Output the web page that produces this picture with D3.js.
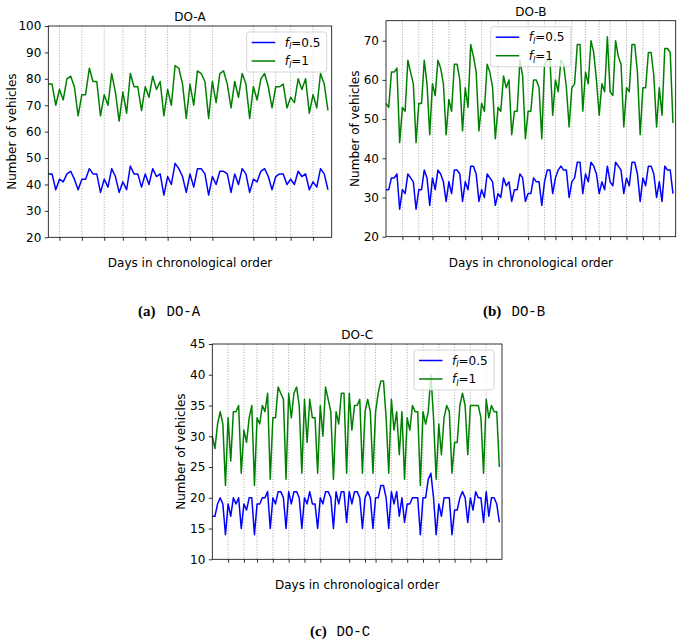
<!DOCTYPE html>
<html><head><meta charset="utf-8">
<script src="https://cdn.jsdelivr.net/npm/d3@7/dist/d3.min.js"></script>
<style>body{margin:0;background:#fff}svg{display:block}</style>
</head><body>
<svg id="chart" width="685" height="643"></svg>
<script>
// ---------------- DATA ----------------
const seriesNames = ["0.5", "1"];
const titles = ["DO-A", "DO-B", "DO-C"];
const captions = [["(a)", "DO-A"], ["(b)", "DO-B"], ["(c)", "DO-C"]];

// DO-A (76 days)
const blueA = [44,44,38, 42,41,44,45,42,38, 42,42,46,44,44,37, 42,39,46,43,37, 41,38,47,44,44,39,
  44,40,46,43,44,36, 43,40,48,46,43,37, 44,39,46,46,44,36, 43,40,45,45,44,37, 44,40,46,44,37,
  42,41,45,46,43,38, 43,44,44,40, 42,40,45,43,44,38, 41,39,46,44,38];
const greenA = [78,78,70, 76,72,80,81,77,66, 74,74,84,79,79,66, 74,70,82,75,64, 75,67,82,77,77,68,
  77,73,81,76,79,66, 76,70,85,84,78,65, 78,70,83,82,79,65, 79,71,82,83,78,69, 79,73,82,78,65,
  77,72,80,82,77,69, 77,77,78,69, 73,71,80,76,80,67, 74,69,82,78,68];
const weekTicksA = [3,9,15,20,26,32,38,44,55,61,65,71];
const yTicksA = [20,30,40,50,60,70,80,90,100];

// DO-B (106 days)
const blueB = [32,32,35,35,36,27, 32,31,36,35,34,27, 32,32,37,35,28, 35,32,37,36,34,29, 34,31,37,37,36,29,
  34,32,38,38,36,29, 32,30,36,35,34,28, 31,30,35,33,34,29, 32,32,36,35,29, 31,31,35,34,34,28,
  34,37,37,31, 35,37,38,37,37,30, 34,35,39,39,31, 36,34,39,38,36, 31,34,32,38,
  34,33,39,38,37,31, 35,33,39,39,36,29, 35,33,38,38,36,30, 34,29,38,37,37,31];
const greenB = [54,53,62,62,63,44, 53,52,65,62,59,44, 54,54,65,59,46, 59,56,65,63,59,46, 55,52,64,64,60,47,
  58,53,69,66,62,47, 54,52,64,62,58,45, 53,52,61,58,60,46, 52,52,65,61,45, 52,52,60,60,58,45,
  64,65,65,51, 60,57,65,64,58,48, 58,59,69,69,52, 62,59,70,67,60, 51,59,57,71,
  57,56,70,66,64,48, 58,57,69,69,62,46, 58,58,67,67,61,48, 58,51,68,68,67,49];
const weekTicksB = [6,12,17,23,29,35,41,52,58,62,68,73,78,82,88,94,100];
const yTicksB = [20,30,40,50,60,70];

// DO-C (110 days)
const blueC = [17,17,19,20,19,14, 19,17,20,19,20,15, 19,18,20,20,14, 19,19,20,20,21,15, 20,19,21,21,20,15,
  21,19,21,21,20,15, 20,19,21,19,19,15, 20,19,21,21,20,15, 21,19,21,21,16, 21,19,21,21,20,15,
  20,21,20,15, 20,20,22,22,20,15, 21,19,21,17,20,16, 19,19,20,20,20,14, 20,20,23,24,20,14,
  19,17,20,20,20,14, 18,18,20,21,20,16, 20,18,21,20,20,16, 21,17,20,20,19,16];
const greenC = [30,28,32,34,32,22, 33,26,34,34,35,24, 31,29,33,35,22, 33,32,35,34,37,23, 33,33,38,37,36,23,
  37,33,37,38,35,24, 36,29,36,33,33,24, 35,30,38,36,34,23, 34,32,37,37,24, 37,31,35,35,36,24,
  34,36,34,24, 34,37,39,39,33,24, 36,31,34,27,34,23, 33,31,35,34,34,22, 34,32,34,40,33,23,
  32,27,33,35,34,24, 29,29,35,37,35,27, 35,35,35,35,33,24, 36,33,35,34,34,25];
const weekTicksC = [6,12,17,23,29,35,41,52,58,62,68,74,80,86,92,98,104];
const yTicksC = [10,15,20,25,30,35,40,45];

// ---------------- DRAW ----------------
const FONT = "'DejaVu Sans', 'Noto Sans', sans-serif";
const FS = 12;
const BLUE = "#0000ff", GREEN = "#008000";
const svg = d3.select("#chart");

const panels = [
  {blue: blueA, green: greenA, ticks: weekTicksA, yTicks: yTicksA, yDomain: [20, 100], title: titles[0], cap: captions[0],
   box: {l: 48.3, r: 331.7, t: 26, b: 237.3}, ylabX: 11.5, legX: 246.7, capX: 138, capMonoX: 166.5, capY: 316},
  {blue: blueB, green: greenB, ticks: weekTicksB, yTicks: yTicksB, yDomain: [20, 75.1], title: titles[1], cap: captions[1],
   box: {l: 386, r: 675.7, t: 20.7, b: 236.7}, ylabX: 354.5, legX: 490.7, capX: 483, capMonoX: 511.5, capY: 316},
  {blue: blueC, green: greenC, ticks: weekTicksC, yTicks: yTicksC, yDomain: [10, 45], title: titles[2], cap: captions[2],
   box: {l: 212.3, r: 502, t: 344, b: 559.3}, ylabX: 181, legX: 414, capX: 310, capMonoX: 336.5, capY: 636}
];

panels.forEach(p => {
  const N = p.green.length;
  const x = d3.scaleLinear().domain([0, N]).range([p.box.l, p.box.r]);
  const y = d3.scaleLinear().domain(p.yDomain).range([p.box.b, p.box.t]);
  const g = svg.append("g");

  // dotted vertical week lines
  g.selectAll("line.grid").data(p.ticks).join("line")
    .attr("x1", d => x(d)).attr("x2", d => x(d))
    .attr("y1", p.box.t).attr("y2", p.box.b)
    .attr("stroke", "#999999").attr("stroke-width", 0.9).attr("stroke-dasharray", "1,1.7");

  // lines
  const line = d3.line().x((d, i) => x(i)).y(d => y(d));
  g.append("path").datum(p.blue).attr("d", line).attr("fill", "none")
    .attr("stroke", BLUE).attr("stroke-width", 1.5).attr("stroke-linejoin", "round");
  g.append("path").datum(p.green).attr("d", line).attr("fill", "none")
    .attr("stroke", GREEN).attr("stroke-width", 1.5).attr("stroke-linejoin", "round");

  // axes
  const xa = g.append("g").attr("transform", `translate(0,${p.box.b})`)
    .call(d3.axisBottom(x).tickValues(p.ticks).tickFormat("").tickSizeInner(3.5).tickSizeOuter(0));
  xa.select(".domain").remove();
  xa.selectAll("line").attr("stroke", "#000").attr("stroke-width", 0.8);

  const ya = g.append("g").attr("transform", `translate(${p.box.l},0)`)
    .call(d3.axisLeft(y).tickValues(p.yTicks).tickSizeInner(3.5).tickSizeOuter(0).tickPadding(3.5));
  ya.select(".domain").remove();
  ya.selectAll("line").attr("stroke", "#000").attr("stroke-width", 0.8);
  ya.selectAll("text").attr("font-family", FONT).attr("font-size", FS).attr("fill", "#000");

  // frame
  g.append("rect").attr("x", p.box.l).attr("y", p.box.t)
    .attr("width", p.box.r - p.box.l).attr("height", p.box.b - p.box.t)
    .attr("fill", "none").attr("stroke", "#000").attr("stroke-width", 0.8);

  // title
  const cx = (p.box.l + p.box.r) / 2;
  g.append("text").attr("x", cx).attr("y", p.box.t - 5).attr("text-anchor", "middle")
    .attr("font-family", FONT).attr("font-size", FS).text(p.title);

  // axis labels
  g.append("text").attr("x", cx).attr("y", p.box.b + 30).attr("text-anchor", "middle")
    .attr("font-family", FONT).attr("font-size", FS).text("Days in chronological order");
  g.append("text").attr("transform", `translate(${p.ylabX},${(p.box.t + p.box.b) / 2}) rotate(-90)`)
    .attr("text-anchor", "middle").attr("dominant-baseline", "central")
    .attr("font-family", FONT).attr("font-size", FS).text("Number of vehicles");

  // legend
  const lg = g.append("g").attr("transform", `translate(${p.legX},${p.box.t + 6})`);
  lg.append("rect").attr("width", 80).attr("height", 40).attr("rx", 2.5)
    .attr("fill", "#fff").attr("fill-opacity", 0.8).attr("stroke", "#cccccc").attr("stroke-width", 0.8);
  [[BLUE, seriesNames[0], 10.5], [GREEN, seriesNames[1], 29]].forEach(([c, name, yy]) => {
    lg.append("line").attr("x1", 5).attr("x2", 28.5).attr("y1", yy).attr("y2", yy)
      .attr("stroke", c).attr("stroke-width", 1.5);
    const t = lg.append("text").attr("x", 38).attr("y", yy + 4.3)
      .attr("font-family", FONT).attr("font-size", FS);
    t.append("tspan").attr("font-style", "italic").text("f");
    t.append("tspan").attr("font-style", "italic").attr("font-size", 8.4).attr("dy", 2.6).text("l");
    t.append("tspan").attr("dy", -2.6).text("=" + name);
  });

  // caption
  g.append("text").attr("x", p.capX).attr("y", p.capY)
    .attr("font-family", "'Liberation Serif', 'DejaVu Serif', serif").attr("font-weight", "bold")
    .attr("font-size", 15).text(p.cap[0]);
  g.append("text").attr("x", p.capMonoX).attr("y", p.capY)
    .attr("font-family", "'Liberation Mono', 'DejaVu Sans Mono', monospace")
    .attr("font-size", 14).text(p.cap[1]);
});
</script>
</body></html>
